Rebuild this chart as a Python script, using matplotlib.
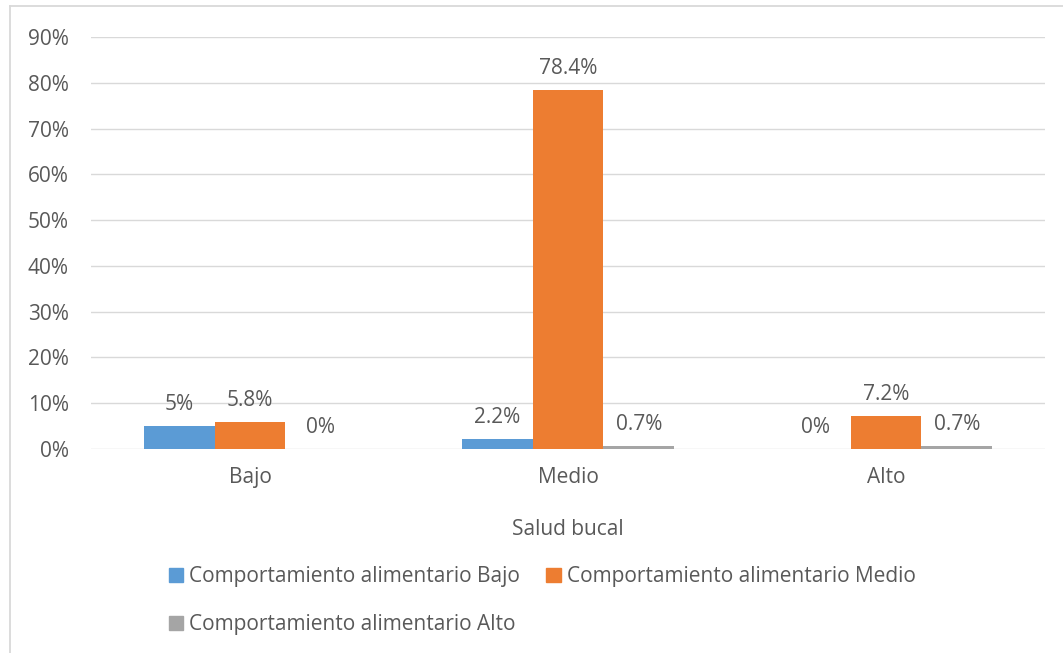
import matplotlib.pyplot as plt
from matplotlib.lines import Line2D
import numpy as np

# data
categories = ["Bajo", "Medio", "Alto"]
series_names = ["Comportamiento alimentario Bajo",
                "Comportamiento alimentario Medio",
                "Comportamiento alimentario Alto"]
values_bajo = [5.0, 2.2, 0.0]
values_medio = [5.8, 78.4, 7.2]
values_alto = [0.0, 0.7, 0.7]
labels_bajo = ["5%", "2.2%", "0%"]
labels_medio = ["5.8%", "78.4%", "7.2%"]
labels_alto = ["0%", "0.7%", "0.7%"]
yticks = [0, 10, 20, 30, 40, 50, 60, 70, 80, 90]

colors = ["#5B9BD5", "#ED7D31", "#A5A5A5"]
text_color = "#595959"
grid_color = "#D9D9D9"
fs = 15

plt.rcParams['font.family'] = ['Open Sans', 'DejaVu Sans']
W, H = 1063, 653
fig = plt.figure(figsize=(W / 100, H / 100), dpi=100)

ax = fig.add_axes([91 / W, 1 - 449 / H, (1045 - 91) / W, (449 - 37) / H])

x = np.arange(len(categories))
width = 0.223
all_vals = [values_bajo, values_medio, values_alto]
all_labels = [labels_bajo, labels_medio, labels_alto]
for i, (vals, labs) in enumerate(zip(all_vals, all_labels)):
    pos = x + (i - 1) * width
    ax.bar(pos, vals, width, color=colors[i], zorder=3)
    for px, v, lab in zip(pos, vals, labs):
        ax.annotate(lab, (px, v), xytext=(0, 8), textcoords="offset points",
                    ha="center", va="bottom", fontsize=fs, color=text_color)

ax.set_xlim(-0.5, 2.5)
ax.set_ylim(0, 90)
ax.set_yticks(yticks)
ax.set_yticklabels([f"{t}%" for t in yticks])
ax.set_xticks(x)
ax.set_xticklabels(categories)
ax.tick_params(axis="both", length=0, labelsize=fs, labelcolor=text_color)
ax.tick_params(axis="y", pad=16)
ax.tick_params(axis="x", pad=13)
ax.grid(axis="y", color=grid_color, linewidth=1.0, zorder=0)
for s in ax.spines.values():
    s.set_visible(False)
ax.set_xlabel("Salud bucal", fontsize=fs, color=text_color, labelpad=22)

# outer chart border (left and top visible)
fig.add_artist(Line2D([9.5 / W, 9.5 / W], [0, 1 - 6 / H], color=grid_color, lw=1.3))
fig.add_artist(Line2D([9.5 / W, 1], [1 - 6 / H, 1 - 6 / H], color=grid_color, lw=1.3))

handles = [plt.Rectangle((0, 0), 1, 1, color=c) for c in colors]
order = [0, 2, 1]
fig.legend([handles[k] for k in order], [series_names[k] for k in order],
           ncol=2, loc="upper left", bbox_to_anchor=(169 / W, 1 - 566 / H),
           frameon=False, fontsize=fs, labelcolor=text_color,
           handlelength=0.68, handleheight=0.68, handletextpad=0.3,
           columnspacing=1.25, labelspacing=1.3, borderpad=0, borderaxespad=0)

fig.savefig("out.png", dpi=100)
